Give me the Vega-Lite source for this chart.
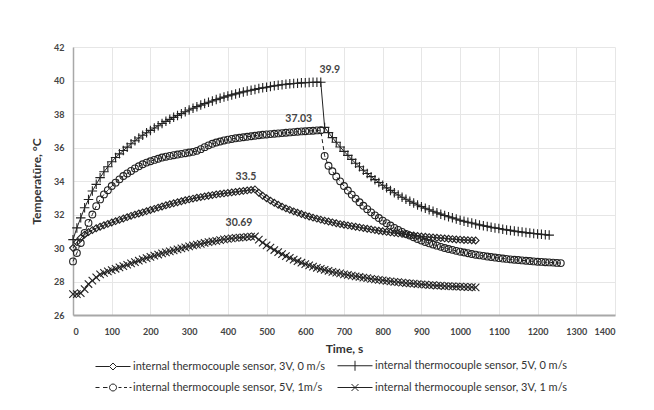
{
"$schema":"https://vega.github.io/schema/vega-lite/v6.json",
"width":542,"height":268,
"autosize":{"type":"none"},
"padding":{"left":73,"top":47,"right":39,"bottom":95},
"background":"white",
"config":{
 "view":{"stroke":null},
 "axis":{"labelFont":"Lato","labelFontWeight":"bold","labelFontSize":9,"labelColor":"#444","titleFont":"Lato","titleFontWeight":"bold","titleFontSize":12,"titleColor":"#333","gridColor":"#e6e6e6","gridWidth":1,"ticks":false,"domainColor":"#a8a8a8"},
 "legend":{"labelFont":"Lato","labelFontSize":11,"labelColor":"#333","labelLimit":300,"symbolStrokeWidth":1,"symbolStrokeColor":"#222","symbolFillColor":"transparent","symbolSize":100,"columnPadding":10,"rowPadding":8,"labelOffset":27}
},
"data":{"values":[
{"s":"A","t":0,"v":30.0},{"s":"A","t":10,"v":30.35},{"s":"A","t":20,"v":30.6},{"s":"A","t":30,"v":30.8},{"s":"A","t":40,"v":30.95},{"s":"A","t":50,"v":31.07},{"s":"A","t":60,"v":31.18},{"s":"A","t":70,"v":31.27},{"s":"A","t":80,"v":31.36},{"s":"A","t":90,"v":31.44},{"s":"A","t":100,"v":31.52},{"s":"A","t":110,"v":31.6},{"s":"A","t":120,"v":31.68},{"s":"A","t":130,"v":31.76},{"s":"A","t":140,"v":31.84},{"s":"A","t":150,"v":31.92},{"s":"A","t":160,"v":31.99},{"s":"A","t":170,"v":32.06},{"s":"A","t":180,"v":32.13},{"s":"A","t":190,"v":32.2},{"s":"A","t":200,"v":32.27},{"s":"A","t":210,"v":32.34},{"s":"A","t":220,"v":32.41},{"s":"A","t":230,"v":32.48},{"s":"A","t":240,"v":32.55},{"s":"A","t":250,"v":32.61},{"s":"A","t":260,"v":32.67},{"s":"A","t":270,"v":32.73},{"s":"A","t":280,"v":32.79},{"s":"A","t":290,"v":32.85},{"s":"A","t":300,"v":32.9},{"s":"A","t":310,"v":32.95},{"s":"A","t":320,"v":33.0},{"s":"A","t":330,"v":33.04},{"s":"A","t":340,"v":33.08},{"s":"A","t":350,"v":33.12},{"s":"A","t":360,"v":33.16},{"s":"A","t":370,"v":33.2},{"s":"A","t":380,"v":33.23},{"s":"A","t":390,"v":33.26},{"s":"A","t":400,"v":33.29},{"s":"A","t":410,"v":33.32},{"s":"A","t":420,"v":33.35},{"s":"A","t":430,"v":33.38},{"s":"A","t":440,"v":33.41},{"s":"A","t":450,"v":33.44},{"s":"A","t":460,"v":33.47},{"s":"A","t":470,"v":33.5},{"s":"A","t":480,"v":33.3},{"s":"A","t":490,"v":33.12},{"s":"A","t":500,"v":32.97},{"s":"A","t":510,"v":32.83},{"s":"A","t":520,"v":32.7},{"s":"A","t":530,"v":32.58},{"s":"A","t":540,"v":32.47},{"s":"A","t":550,"v":32.37},{"s":"A","t":560,"v":32.28},{"s":"A","t":570,"v":32.19},{"s":"A","t":580,"v":32.11},{"s":"A","t":590,"v":32.03},{"s":"A","t":600,"v":31.95},{"s":"A","t":610,"v":31.88},{"s":"A","t":620,"v":31.81},{"s":"A","t":630,"v":31.75},{"s":"A","t":640,"v":31.69},{"s":"A","t":650,"v":31.63},{"s":"A","t":660,"v":31.58},{"s":"A","t":670,"v":31.53},{"s":"A","t":680,"v":31.48},{"s":"A","t":690,"v":31.43},{"s":"A","t":700,"v":31.39},{"s":"A","t":710,"v":31.35},{"s":"A","t":720,"v":31.31},{"s":"A","t":730,"v":31.27},{"s":"A","t":740,"v":31.23},{"s":"A","t":750,"v":31.19},{"s":"A","t":760,"v":31.15},{"s":"A","t":770,"v":31.11},{"s":"A","t":780,"v":31.07},{"s":"A","t":790,"v":31.03},{"s":"A","t":800,"v":31.0},{"s":"A","t":810,"v":30.96},{"s":"A","t":820,"v":30.93},{"s":"A","t":830,"v":30.9},{"s":"A","t":840,"v":30.87},{"s":"A","t":850,"v":30.84},{"s":"A","t":860,"v":30.81},{"s":"A","t":870,"v":30.78},{"s":"A","t":880,"v":30.75},{"s":"A","t":890,"v":30.72},{"s":"A","t":900,"v":30.69},{"s":"A","t":910,"v":30.67},{"s":"A","t":920,"v":30.65},{"s":"A","t":930,"v":30.63},{"s":"A","t":940,"v":30.61},{"s":"A","t":950,"v":30.59},{"s":"A","t":960,"v":30.57},{"s":"A","t":970,"v":30.55},{"s":"A","t":980,"v":30.53},{"s":"A","t":990,"v":30.51},{"s":"A","t":1000,"v":30.5},{"s":"A","t":1010,"v":30.48},{"s":"A","t":1020,"v":30.47},{"s":"A","t":1030,"v":30.46},{"s":"A","t":1040,"v":30.45},
{"s":"B","t":0,"v":30.5},{"s":"B","t":10,"v":31.2},{"s":"B","t":20,"v":31.8},{"s":"B","t":30,"v":32.4},{"s":"B","t":40,"v":32.9},{"s":"B","t":50,"v":33.4},{"s":"B","t":60,"v":33.8},{"s":"B","t":70,"v":34.2},{"s":"B","t":80,"v":34.55},{"s":"B","t":90,"v":34.85},{"s":"B","t":100,"v":35.15},{"s":"B","t":110,"v":35.4},{"s":"B","t":120,"v":35.62},{"s":"B","t":130,"v":35.82},{"s":"B","t":140,"v":36.02},{"s":"B","t":150,"v":36.22},{"s":"B","t":160,"v":36.4},{"s":"B","t":170,"v":36.57},{"s":"B","t":180,"v":36.73},{"s":"B","t":190,"v":36.88},{"s":"B","t":200,"v":37.02},{"s":"B","t":210,"v":37.16},{"s":"B","t":220,"v":37.3},{"s":"B","t":230,"v":37.43},{"s":"B","t":240,"v":37.56},{"s":"B","t":250,"v":37.68},{"s":"B","t":260,"v":37.8},{"s":"B","t":270,"v":37.91},{"s":"B","t":280,"v":38.02},{"s":"B","t":290,"v":38.13},{"s":"B","t":300,"v":38.24},{"s":"B","t":310,"v":38.34},{"s":"B","t":320,"v":38.44},{"s":"B","t":330,"v":38.53},{"s":"B","t":340,"v":38.62},{"s":"B","t":350,"v":38.7},{"s":"B","t":360,"v":38.78},{"s":"B","t":370,"v":38.86},{"s":"B","t":380,"v":38.94},{"s":"B","t":390,"v":39.01},{"s":"B","t":400,"v":39.08},{"s":"B","t":410,"v":39.14},{"s":"B","t":420,"v":39.2},{"s":"B","t":430,"v":39.26},{"s":"B","t":440,"v":39.32},{"s":"B","t":450,"v":39.37},{"s":"B","t":460,"v":39.42},{"s":"B","t":470,"v":39.47},{"s":"B","t":480,"v":39.52},{"s":"B","t":490,"v":39.56},{"s":"B","t":500,"v":39.6},{"s":"B","t":510,"v":39.64},{"s":"B","t":520,"v":39.68},{"s":"B","t":530,"v":39.72},{"s":"B","t":540,"v":39.75},{"s":"B","t":550,"v":39.78},{"s":"B","t":560,"v":39.8},{"s":"B","t":570,"v":39.82},{"s":"B","t":580,"v":39.84},{"s":"B","t":590,"v":39.86},{"s":"B","t":600,"v":39.87},{"s":"B","t":610,"v":39.88},{"s":"B","t":620,"v":39.89},{"s":"B","t":630,"v":39.9},{"s":"B","t":640,"v":39.9},{"s":"B","t":650,"v":37.2},{"s":"B","t":660,"v":36.89},{"s":"B","t":670,"v":36.59},{"s":"B","t":680,"v":36.31},{"s":"B","t":690,"v":36.03},{"s":"B","t":700,"v":35.77},{"s":"B","t":710,"v":35.53},{"s":"B","t":720,"v":35.29},{"s":"B","t":730,"v":35.06},{"s":"B","t":740,"v":34.85},{"s":"B","t":750,"v":34.64},{"s":"B","t":760,"v":34.45},{"s":"B","t":770,"v":34.26},{"s":"B","t":780,"v":34.08},{"s":"B","t":790,"v":33.91},{"s":"B","t":800,"v":33.75},{"s":"B","t":810,"v":33.59},{"s":"B","t":820,"v":33.44},{"s":"B","t":830,"v":33.3},{"s":"B","t":840,"v":33.16},{"s":"B","t":850,"v":33.03},{"s":"B","t":860,"v":32.91},{"s":"B","t":870,"v":32.79},{"s":"B","t":880,"v":32.68},{"s":"B","t":890,"v":32.57},{"s":"B","t":900,"v":32.47},{"s":"B","t":910,"v":32.37},{"s":"B","t":920,"v":32.28},{"s":"B","t":930,"v":32.19},{"s":"B","t":940,"v":32.1},{"s":"B","t":950,"v":32.02},{"s":"B","t":960,"v":31.94},{"s":"B","t":970,"v":31.87},{"s":"B","t":980,"v":31.8},{"s":"B","t":990,"v":31.73},{"s":"B","t":1000,"v":31.66},{"s":"B","t":1010,"v":31.6},{"s":"B","t":1020,"v":31.54},{"s":"B","t":1030,"v":31.49},{"s":"B","t":1040,"v":31.43},{"s":"B","t":1050,"v":31.38},{"s":"B","t":1060,"v":31.33},{"s":"B","t":1070,"v":31.29},{"s":"B","t":1080,"v":31.24},{"s":"B","t":1090,"v":31.2},{"s":"B","t":1100,"v":31.16},{"s":"B","t":1110,"v":31.12},{"s":"B","t":1120,"v":31.08},{"s":"B","t":1130,"v":31.05},{"s":"B","t":1140,"v":31.01},{"s":"B","t":1150,"v":30.98},{"s":"B","t":1160,"v":30.95},{"s":"B","t":1170,"v":30.92},{"s":"B","t":1180,"v":30.89},{"s":"B","t":1190,"v":30.87},{"s":"B","t":1200,"v":30.84},{"s":"B","t":1210,"v":30.82},{"s":"B","t":1220,"v":30.79},{"s":"B","t":1230,"v":30.77},
{"s":"C","t":0,"v":29.2},{"s":"C","t":10,"v":29.7},{"s":"C","t":20,"v":30.3},{"s":"C","t":30,"v":30.9},{"s":"C","t":40,"v":31.5},{"s":"C","t":50,"v":32.0},{"s":"C","t":60,"v":32.5},{"s":"C","t":70,"v":32.9},{"s":"C","t":80,"v":33.2},{"s":"C","t":90,"v":33.45},{"s":"C","t":100,"v":33.7},{"s":"C","t":110,"v":33.9},{"s":"C","t":120,"v":34.1},{"s":"C","t":130,"v":34.3},{"s":"C","t":140,"v":34.45},{"s":"C","t":150,"v":34.6},{"s":"C","t":160,"v":34.75},{"s":"C","t":170,"v":34.88},{"s":"C","t":180,"v":35.0},{"s":"C","t":190,"v":35.1},{"s":"C","t":200,"v":35.18},{"s":"C","t":210,"v":35.26},{"s":"C","t":220,"v":35.33},{"s":"C","t":230,"v":35.4},{"s":"C","t":240,"v":35.45},{"s":"C","t":250,"v":35.5},{"s":"C","t":260,"v":35.54},{"s":"C","t":270,"v":35.58},{"s":"C","t":280,"v":35.62},{"s":"C","t":290,"v":35.66},{"s":"C","t":300,"v":35.7},{"s":"C","t":310,"v":35.74},{"s":"C","t":320,"v":35.8},{"s":"C","t":330,"v":35.9},{"s":"C","t":340,"v":36.02},{"s":"C","t":350,"v":36.13},{"s":"C","t":360,"v":36.22},{"s":"C","t":370,"v":36.3},{"s":"C","t":380,"v":36.36},{"s":"C","t":390,"v":36.42},{"s":"C","t":400,"v":36.47},{"s":"C","t":410,"v":36.51},{"s":"C","t":420,"v":36.55},{"s":"C","t":430,"v":36.58},{"s":"C","t":440,"v":36.61},{"s":"C","t":450,"v":36.64},{"s":"C","t":460,"v":36.67},{"s":"C","t":470,"v":36.7},{"s":"C","t":480,"v":36.73},{"s":"C","t":490,"v":36.76},{"s":"C","t":500,"v":36.78},{"s":"C","t":510,"v":36.8},{"s":"C","t":520,"v":36.82},{"s":"C","t":530,"v":36.84},{"s":"C","t":540,"v":36.86},{"s":"C","t":550,"v":36.88},{"s":"C","t":560,"v":36.9},{"s":"C","t":570,"v":36.92},{"s":"C","t":580,"v":36.94},{"s":"C","t":590,"v":36.96},{"s":"C","t":600,"v":36.97},{"s":"C","t":610,"v":36.99},{"s":"C","t":620,"v":37.0},{"s":"C","t":630,"v":37.02},{"s":"C","t":640,"v":37.03},{"s":"C","t":650,"v":35.5},{"s":"C","t":660,"v":34.91},{"s":"C","t":670,"v":34.58},{"s":"C","t":680,"v":34.27},{"s":"C","t":690,"v":33.98},{"s":"C","t":700,"v":33.7},{"s":"C","t":710,"v":33.43},{"s":"C","t":720,"v":33.19},{"s":"C","t":730,"v":32.95},{"s":"C","t":740,"v":32.73},{"s":"C","t":750,"v":32.52},{"s":"C","t":760,"v":32.32},{"s":"C","t":770,"v":32.13},{"s":"C","t":780,"v":31.95},{"s":"C","t":790,"v":31.79},{"s":"C","t":800,"v":31.63},{"s":"C","t":810,"v":31.48},{"s":"C","t":820,"v":31.34},{"s":"C","t":830,"v":31.2},{"s":"C","t":840,"v":31.08},{"s":"C","t":850,"v":30.96},{"s":"C","t":860,"v":30.84},{"s":"C","t":870,"v":30.74},{"s":"C","t":880,"v":30.64},{"s":"C","t":890,"v":30.54},{"s":"C","t":900,"v":30.45},{"s":"C","t":910,"v":30.36},{"s":"C","t":920,"v":30.28},{"s":"C","t":930,"v":30.21},{"s":"C","t":940,"v":30.14},{"s":"C","t":950,"v":30.07},{"s":"C","t":960,"v":30.0},{"s":"C","t":970,"v":29.94},{"s":"C","t":980,"v":29.89},{"s":"C","t":990,"v":29.83},{"s":"C","t":1000,"v":29.78},{"s":"C","t":1010,"v":29.73},{"s":"C","t":1020,"v":29.69},{"s":"C","t":1030,"v":29.64},{"s":"C","t":1040,"v":29.6},{"s":"C","t":1050,"v":29.56},{"s":"C","t":1060,"v":29.53},{"s":"C","t":1070,"v":29.49},{"s":"C","t":1080,"v":29.46},{"s":"C","t":1090,"v":29.43},{"s":"C","t":1100,"v":29.4},{"s":"C","t":1110,"v":29.37},{"s":"C","t":1120,"v":29.35},{"s":"C","t":1130,"v":29.32},{"s":"C","t":1140,"v":29.3},{"s":"C","t":1150,"v":29.28},{"s":"C","t":1160,"v":29.26},{"s":"C","t":1170,"v":29.24},{"s":"C","t":1180,"v":29.22},{"s":"C","t":1190,"v":29.2},{"s":"C","t":1200,"v":29.18},{"s":"C","t":1210,"v":29.17},{"s":"C","t":1220,"v":29.15},{"s":"C","t":1230,"v":29.14},{"s":"C","t":1240,"v":29.13},{"s":"C","t":1250,"v":29.11},{"s":"C","t":1260,"v":29.1},
{"s":"D","t":0,"v":27.25},{"s":"D","t":10,"v":27.25},{"s":"D","t":20,"v":27.3},{"s":"D","t":30,"v":27.55},{"s":"D","t":40,"v":27.85},{"s":"D","t":50,"v":28.05},{"s":"D","t":60,"v":28.25},{"s":"D","t":70,"v":28.42},{"s":"D","t":80,"v":28.52},{"s":"D","t":90,"v":28.6},{"s":"D","t":100,"v":28.68},{"s":"D","t":110,"v":28.76},{"s":"D","t":120,"v":28.84},{"s":"D","t":130,"v":28.92},{"s":"D","t":140,"v":29.0},{"s":"D","t":150,"v":29.08},{"s":"D","t":160,"v":29.16},{"s":"D","t":170,"v":29.24},{"s":"D","t":180,"v":29.32},{"s":"D","t":190,"v":29.4},{"s":"D","t":200,"v":29.47},{"s":"D","t":210,"v":29.54},{"s":"D","t":220,"v":29.61},{"s":"D","t":230,"v":29.68},{"s":"D","t":240,"v":29.74},{"s":"D","t":250,"v":29.8},{"s":"D","t":260,"v":29.86},{"s":"D","t":270,"v":29.92},{"s":"D","t":280,"v":29.98},{"s":"D","t":290,"v":30.04},{"s":"D","t":300,"v":30.1},{"s":"D","t":310,"v":30.15},{"s":"D","t":320,"v":30.2},{"s":"D","t":330,"v":30.25},{"s":"D","t":340,"v":30.3},{"s":"D","t":350,"v":30.35},{"s":"D","t":360,"v":30.39},{"s":"D","t":370,"v":30.43},{"s":"D","t":380,"v":30.47},{"s":"D","t":390,"v":30.51},{"s":"D","t":400,"v":30.54},{"s":"D","t":410,"v":30.57},{"s":"D","t":420,"v":30.6},{"s":"D","t":430,"v":30.62},{"s":"D","t":440,"v":30.64},{"s":"D","t":450,"v":30.66},{"s":"D","t":460,"v":30.68},{"s":"D","t":470,"v":30.69},{"s":"D","t":480,"v":30.5},{"s":"D","t":490,"v":30.32},{"s":"D","t":500,"v":30.16},{"s":"D","t":510,"v":30.02},{"s":"D","t":520,"v":29.88},{"s":"D","t":530,"v":29.75},{"s":"D","t":540,"v":29.63},{"s":"D","t":550,"v":29.52},{"s":"D","t":560,"v":29.41},{"s":"D","t":570,"v":29.31},{"s":"D","t":580,"v":29.21},{"s":"D","t":590,"v":29.12},{"s":"D","t":600,"v":29.04},{"s":"D","t":610,"v":28.96},{"s":"D","t":620,"v":28.89},{"s":"D","t":630,"v":28.82},{"s":"D","t":640,"v":28.76},{"s":"D","t":650,"v":28.7},{"s":"D","t":660,"v":28.64},{"s":"D","t":670,"v":28.58},{"s":"D","t":680,"v":28.53},{"s":"D","t":690,"v":28.48},{"s":"D","t":700,"v":28.43},{"s":"D","t":710,"v":28.39},{"s":"D","t":720,"v":28.35},{"s":"D","t":730,"v":28.31},{"s":"D","t":740,"v":28.27},{"s":"D","t":750,"v":28.23},{"s":"D","t":760,"v":28.2},{"s":"D","t":770,"v":28.16},{"s":"D","t":780,"v":28.13},{"s":"D","t":790,"v":28.1},{"s":"D","t":800,"v":28.07},{"s":"D","t":810,"v":28.04},{"s":"D","t":820,"v":28.01},{"s":"D","t":830,"v":27.98},{"s":"D","t":840,"v":27.96},{"s":"D","t":850,"v":27.93},{"s":"D","t":860,"v":27.91},{"s":"D","t":870,"v":27.89},{"s":"D","t":880,"v":27.87},{"s":"D","t":890,"v":27.85},{"s":"D","t":900,"v":27.83},{"s":"D","t":910,"v":27.81},{"s":"D","t":920,"v":27.79},{"s":"D","t":930,"v":27.78},{"s":"D","t":940,"v":27.76},{"s":"D","t":950,"v":27.75},{"s":"D","t":960,"v":27.73},{"s":"D","t":970,"v":27.72},{"s":"D","t":980,"v":27.71},{"s":"D","t":990,"v":27.7},{"s":"D","t":1000,"v":27.69},{"s":"D","t":1010,"v":27.68},{"s":"D","t":1020,"v":27.67},{"s":"D","t":1030,"v":27.66},{"s":"D","t":1040,"v":27.65}
]},
"encoding":{
 "x":{"field":"t","type":"quantitative","scale":{"domain":[0,1400],"nice":false},"axis":{"title":"Time, s","format":"d","values":[0,100,200,300,400,500,600,700,800,900,1000,1100,1200,1300,1400],"domainWidth":2,"labelPadding":12,"titlePadding":7}},
 "y":{"field":"v","type":"quantitative","scale":{"domain":[26,42],"nice":false,"zero":false},"axis":{"title":"Temperatūre, °C","values":[26,28,30,32,34,36,38,40,42],"domainWidth":1.5,"labelPadding":9,"titlePadding":10}}
},
"resolve":{"scale":{"shape":"independent"}},
"layer":[
 {"transform":[{"filter":"datum.s !== 'C'"}],"mark":{"type":"line","strokeWidth":1,"color":"#222"},
  "encoding":{"detail":{"field":"s","type":"nominal"}}},
 {"transform":[{"filter":"datum.s === 'C'"}],"mark":{"type":"line","strokeWidth":1,"color":"#222","strokeDash":[4,3]},
  "encoding":{}},
 {"mark":{"type":"point","filled":false,"size":46,"strokeWidth":1.1,"color":"#222","opacity":1},
  "encoding":{"shape":{"field":"s","type":"nominal","scale":{"domain":["A","B","C","D"],"range":["diamond","M-1.4,0H1.4M0,-1.4V1.4","circle","M-1.1,-1.1L1.1,1.1M-1.1,1.1L1.1,-1.1"]},"legend":null}}},
 {"transform":[{"filter":"false"}],"mark":{"type":"point","filled":false,"size":100,"strokeWidth":1,"color":"#222","opacity":1},
  "encoding":{"shape":{"field":"s","type":"nominal","scale":{"domain":["A","B","C","D"],"range":["M-1,0H1.8M3.2,0H6M2.5,-0.7L3.2,0L2.5,0.7L1.8,0Z","M-1,0H6M2.5,-1V1","M-1,0H-0.2M0.5,0H1.4M3.6,0H4.2M4.7,0H5.3M5.8,0H6.2M3.2,0A0.7,0.7,0,1,1,1.8,0A0.7,0.7,0,1,1,3.2,0","M-1,0H6M1.8,-0.7L3.2,0.7M1.8,0.7L3.2,-0.7"]},
   "legend":{"title":null,"orient":"none","legendX":22,"legendY":313,"direction":"horizontal","columns":2,"labelExpr":"datum.value==='A'?'internal thermocouple sensor, 3V, 0 m/s':datum.value==='B'?'internal thermocouple sensor, 5V, 0 m/s':datum.value==='C'?'internal thermocouple sensor, 5V, 1m/s':'internal thermocouple sensor, 3V, 1 m/s'"}}}},
 {"data":{"values":[{"t":640,"v":39.9,"label":"39.9"}]},"mark":{"type":"text","font":"Lato","fontWeight":"bold","fontSize":10.5,"color":"#444","dx":9,"dy":-12},"encoding":{"text":{"field":"label"}}},
 {"data":{"values":[{"t":640,"v":37.03,"label":"37.03"}]},"mark":{"type":"text","font":"Lato","fontWeight":"bold","fontSize":10.5,"color":"#444","dx":-22,"dy":-11},"encoding":{"text":{"field":"label"}}},
 {"data":{"values":[{"t":470,"v":33.5,"label":"33.5"}]},"mark":{"type":"text","font":"Lato","fontWeight":"bold","fontSize":10.5,"color":"#444","dx":-9,"dy":-12},"encoding":{"text":{"field":"label"}}},
 {"data":{"values":[{"t":470,"v":30.69,"label":"30.69"}]},"mark":{"type":"text","font":"Lato","fontWeight":"bold","fontSize":10.5,"color":"#444","dx":-16,"dy":-13},"encoding":{"text":{"field":"label"}}}
]
}
